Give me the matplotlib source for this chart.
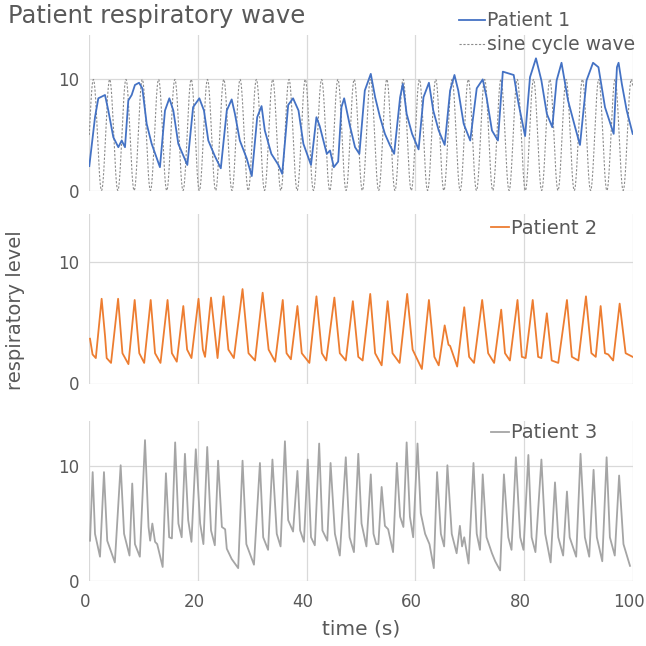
import numpy as np
import matplotlib
matplotlib.use("Agg")
import matplotlib.pyplot as plt
import matplotlib.transforms as mtransforms

# Patient 1 (time in s, level)
p1_t = [0.0, 1.05, 1.66, 2.89, 3.5, 4.42, 5.34, 5.96, 6.57, 7.18, 7.8, 8.4, 9.15, 9.76, 10.56, 11.48,
        13.0, 13.93, 14.73, 15.46, 16.38, 18.04, 19.1, 20.25, 21.1, 21.9, 23.1, 24.2, 25.3, 26.2, 26.8,
        27.7, 28.96, 29.9, 30.9, 31.7, 32.3, 33.5, 34.8, 35.5, 36.6, 37.5, 38.5, 39.4, 40.8, 41.8, 42.4,
        43.7, 44.3, 45.0, 45.8, 46.4, 46.9, 47.97, 48.9, 49.7, 50.7, 51.8, 52.6, 53.5, 54.4, 55.3, 56.1,
        57.2, 57.7, 58.4, 59.4, 60.6, 61.5, 62.5, 63.3, 64.3, 65.4, 66.4, 67.2, 67.9, 68.9, 70.1, 71.3,
        72.4, 73.1, 74.1, 75.2, 76.1, 78.1, 79.0, 80.2, 81.1, 82.2, 83.2, 84.2, 85.2, 86.0, 86.9, 88.1,
        89.4, 90.3, 91.5, 92.7, 93.7, 94.9, 96.5, 97.1, 97.4, 98.0, 98.9, 100.0]
p1_v = [2.2, 6.6, 8.3, 8.6, 7.2, 4.8, 3.9, 4.5, 3.9, 8.1, 8.6, 9.5, 9.7, 9.2, 6.0, 4.2,
        2.1, 7.2, 8.3, 7.2, 4.2, 2.3, 7.5, 8.3, 7.2, 4.5, 3.1, 2.0, 7.2, 8.2, 6.9,
        4.5, 2.9, 1.3, 6.6, 7.6, 5.4, 3.3, 2.3, 1.5, 7.7, 8.3, 7.2, 4.2, 2.3, 6.6, 5.8,
        3.3, 3.6, 2.1, 2.6, 7.5, 8.3, 5.8, 3.9, 3.3, 9.0, 10.5, 8.4, 6.6, 5.1, 4.1, 3.3,
        8.4, 9.6, 6.9, 5.1, 3.7, 8.4, 9.7, 7.2, 5.4, 4.1, 9.0, 10.4, 9.0, 6.0, 4.5, 9.2,
        10.0, 8.4, 5.4, 4.5, 10.7, 10.4, 7.8, 4.9, 10.2, 11.9, 9.9, 6.9, 5.7, 9.9, 11.5, 8.1,
        5.7, 4.1, 9.9, 11.5, 11.1, 7.5, 5.1, 11.1, 11.5, 9.6, 7.2, 5.1]

# Patient 2
p2_t = [0.13, 0.6, 1.2, 2.27, 2.9, 3.2, 4.0, 5.3, 6.1, 7.2, 8.35, 9.2, 10.1, 11.3, 12.1, 13.1, 14.4,
        15.2, 16.1, 17.3, 18.0, 18.8, 20.1, 20.9, 21.3, 22.4, 23.6, 24.7, 25.6, 26.6, 28.2, 29.3, 30.5,
        31.9, 33.0, 34.2, 35.6, 36.3, 37.1, 38.3, 39.1, 40.5, 41.8, 42.8, 43.6, 45.1, 46.1, 47.2, 48.5,
        49.5, 50.3, 51.7, 52.6, 53.8, 54.9, 55.8, 57.1, 58.5, 59.5, 61.2, 62.5, 63.5, 64.3, 65.4, 66.1,
        66.4, 67.7, 69.0, 69.9, 70.8, 72.3, 73.4, 74.5, 75.8, 76.5, 77.4, 78.8, 79.6, 80.3, 81.6, 82.6,
        83.2, 84.2, 85.1, 86.3, 87.9, 88.8, 90.0, 91.4, 92.4, 93.2, 94.1, 94.9, 95.5, 96.4, 97.6, 98.7,
        100.0]
p2_v = [3.7, 2.4, 2.1, 7.0, 3.9, 2.1, 1.7, 7.0, 2.5, 1.6, 6.9, 2.5, 1.7, 6.9, 2.5, 1.7, 6.9,
        2.5, 1.8, 6.4, 2.8, 2.1, 7.0, 2.8, 2.2, 7.1, 2.1, 7.2, 2.8, 2.1, 7.8, 2.5, 1.9,
        7.5, 2.8, 1.8, 6.9, 2.5, 2.0, 6.4, 2.5, 1.7, 7.2, 2.5, 1.9, 7.1, 2.5, 1.9, 6.8,
        2.2, 1.9, 7.4, 2.5, 1.5, 6.8, 2.5, 1.7, 7.4, 2.8, 1.2, 6.9, 2.2, 1.5, 4.8, 3.2,
        3.1, 1.4, 6.3, 2.2, 1.7, 6.9, 2.5, 1.7, 6.1, 2.5, 1.9, 6.9, 2.2, 2.1, 6.9, 2.2,
        2.1, 5.8, 1.9, 1.7, 6.9, 2.2, 1.9, 7.2, 2.5, 2.2, 6.4, 2.5, 2.4, 1.9, 6.6, 2.5,
        2.2]

# Patient 3
p3_t = [0.13, 0.62, 1.05, 1.97, 2.7, 3.3, 4.7, 5.77, 6.4, 7.4, 7.9, 8.4, 9.3, 10.25, 10.9, 11.2, 11.6,
        12.1, 12.5, 13.5, 14.1, 14.7, 15.2, 15.8, 16.4, 17.0, 17.6, 18.2, 18.8, 19.6, 20.4, 21.0, 21.7,
        22.4, 23.1, 23.7, 24.4, 25.0, 25.3, 26.2, 27.4, 28.2, 28.9, 30.3, 31.4, 32.0, 32.9, 33.7, 34.5,
        35.2, 36.0, 36.6, 37.5, 38.3, 38.8, 39.5, 40.2, 40.8, 41.5, 42.3, 42.9, 43.8, 44.4, 45.2, 46.1,
        47.2, 47.9, 48.7, 49.5, 50.1, 51.0, 51.8, 52.3, 52.8, 53.2, 53.8, 54.4, 55.0, 55.9, 56.6, 57.2,
        57.8, 58.4, 59.0, 59.6, 60.4, 61.0, 61.8, 62.6, 63.4, 64.0, 64.7, 65.3, 65.9, 66.7, 67.6, 68.2,
        68.6, 69.0, 69.8, 70.7, 71.3, 71.9, 72.4, 73.1, 74.1, 74.7, 75.6, 76.3, 77.1, 77.7, 78.5, 79.3,
        79.9, 80.8, 81.4, 82.1, 83.2, 83.9, 84.9, 85.7, 86.3, 87.2, 87.9, 88.4, 89.6, 90.4, 91.2, 92.0,
        92.8, 93.4, 94.4, 95.2, 95.8, 96.7, 97.5, 98.3, 99.5]
p3_v = [3.5, 9.5, 4.1, 2.1, 9.5, 3.5, 1.6, 10.1, 4.1, 2.2, 8.5, 3.2, 2.1, 12.3, 4.7, 3.5, 5.0,
        3.4, 3.2, 1.2, 9.4, 3.8, 3.7, 12.1, 5.0, 3.8, 11.1, 5.3, 3.4, 11.5, 5.0, 3.2, 11.7,
        4.4, 3.1, 10.5, 4.7, 4.5, 2.8, 1.9, 1.1, 10.5, 3.2, 1.4, 10.3, 3.8, 2.7, 10.6, 4.1,
        3.0, 12.2, 5.3, 4.3, 9.6, 4.4, 3.4, 10.6, 3.8, 3.1, 12.0, 4.4, 3.5, 10.3, 4.1, 2.2,
        10.8, 3.8, 2.5, 11.1, 5.0, 3.0, 9.3, 4.1, 3.2, 3.2, 8.2, 4.8, 4.5, 2.5, 10.3, 5.6,
        4.7, 12.1, 5.6, 3.8, 12.0, 5.9, 4.1, 3.2, 1.1, 9.5, 4.1, 3.0, 10.1, 4.1, 2.4, 4.8,
        3.0, 3.8, 1.5, 10.3, 4.1, 2.7, 9.3, 3.8, 2.4, 1.7, 0.9, 9.3, 3.8, 2.7, 10.8, 3.8,
        2.7, 11.0, 3.8, 2.5, 10.6, 4.1, 1.6, 8.6, 3.8, 2.2, 7.8, 3.8, 2.1, 11.1, 3.8, 2.1,
        9.7, 3.8, 1.7, 10.8, 3.8, 2.2, 9.2, 3.2, 1.3]

# reference sine cycle: period 3 s, between 0 and 10
sine_period = 3.0
sine_low, sine_high = 0.0, 10.0

x_ticks = [0, 20, 40, 60, 80, 100]
y_ticks = [0, 10]

txt = '#595959'
grid_c = '#d9d9d9'
blue, orange, gray = '#4472C4', '#ED7D31', '#A5A5A5'

W = 646.0
fig = plt.figure(figsize=(6.46, 6.46), dpi=100)
plt.rcParams['font.family'] = ['DejaVu Sans']


def px_axes(left, right, top, bottom):
    return fig.add_axes([left / W, 1 - bottom / W, (right - left) / W, (bottom - top) / W])


ax1 = px_axes(89.3, 632.7, 35, 190.5)
ax2 = px_axes(89.3, 632.7, 214, 383.5)
ax3 = px_axes(89.3, 632.7, 420.7, 580.7)

for ax in (ax1, ax2, ax3):
    ax.set_xlim(0, 100)
    ax.set_ylim(0, 14)
    ax.set_xticks(x_ticks)
    ax.set_yticks(y_ticks)
    for s in ax.spines.values():
        s.set_visible(False)
    ax.grid(True, color=grid_c, linewidth=0.9)
    ax.set_axisbelow(True)
    ax.tick_params(length=0, labelsize=12, labelcolor=txt, pad=7)
    ax.tick_params(axis='x', pad=9)

ax1.tick_params(labelbottom=False)
ax2.tick_params(labelbottom=False)

# x tick labels sit a little left of their gridlines in the reference
shift = mtransforms.ScaledTranslation(-4 / 100, 0, fig.dpi_scale_trans)
for lab in ax3.get_xticklabels():
    lab.set_transform(lab.get_transform() + shift)

ts = np.linspace(0, 100, 3001)
mid = (sine_high + sine_low) / 2
amp = (sine_high - sine_low) / 2
ax1.plot(ts, mid + amp * np.sin(2 * np.pi * ts / sine_period), color='#8c8c8c',
         linewidth=0.8, linestyle=(0, (2, 1.5)), label='sine cycle wave', zorder=2)
ax1.plot(p1_t, p1_v, color=blue, linewidth=1.3, label='Patient 1', zorder=3)
ax2.plot(p2_t, p2_v, color=orange, linewidth=1.3, label='Patient 2')
ax3.plot(p3_t, p3_v, color=gray, linewidth=1.3, label='Patient 3')

ax3.set_xlabel('time (s)', fontsize=14.5, color=txt, labelpad=6)

fig.text(8 / W, 1 - 4 / W, 'Patient respiratory wave', fontsize=17.5, color=txt, ha='left', va='top')
fig.text(16 / W, 1 - 310 / W, 'respiratory level', fontsize=14, color=txt, rotation=90,
         ha='center', va='center')

h1, l1 = ax1.get_legend_handles_labels()
ax1.legend([h1[1], h1[0]], [l1[1], l1[0]], loc='upper left', frameon=False,
           bbox_to_anchor=(450 / W, 1 - 2 / W), bbox_transform=fig.transFigure,
           fontsize=13.5, handlelength=1.35, handletextpad=0.1, labelspacing=0.25,
           borderpad=0, labelcolor=txt)

ax2.legend(loc='center left', frameon=False, bbox_to_anchor=(481 / W, 1 - 228 / W),
           bbox_transform=fig.transFigure, fontsize=14, handlelength=0.95,
           handletextpad=0.1, borderpad=0, labelcolor=txt)
ax3.legend(loc='center left', frameon=False, bbox_to_anchor=(481 / W, 1 - 433 / W),
           bbox_transform=fig.transFigure, fontsize=14, handlelength=0.95,
           handletextpad=0.1, borderpad=0, labelcolor=txt)

fig.savefig('out.png', dpi=100, facecolor='white')
